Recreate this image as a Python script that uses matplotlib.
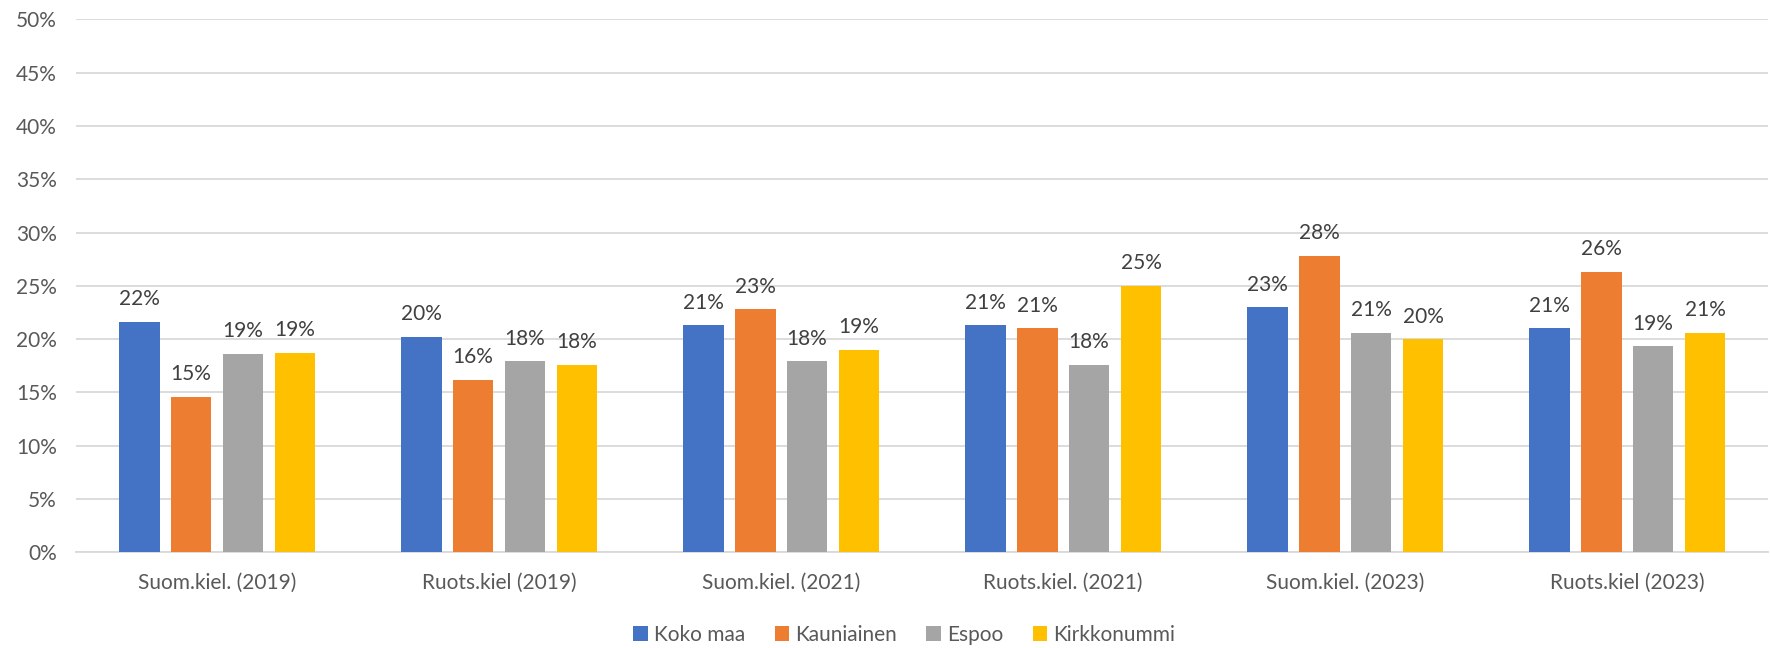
import numpy as np
import matplotlib
matplotlib.use("Agg")
import matplotlib.pyplot as plt
from matplotlib.ticker import FuncFormatter

plt.rcParams['font.family'] = ['Lato', 'DejaVu Sans']

kategoriat = ["Suom.kiel. (2019)", "Ruots.kiel (2019)", "Suom.kiel. (2021)",
              "Ruots.kiel. (2021)", "Suom.kiel. (2023)", "Ruots.kiel (2023)"]
sarjat = ["Koko maa", "Kauniainen", "Espoo", "Kirkkonummi"]
koko_maa = [21.6, 20.2, 21.3, 21.3, 23.0, 21.0]
kauniainen = [14.6, 16.2, 22.8, 21.0, 27.8, 26.3]
espoo = [18.6, 17.9, 17.9, 17.6, 20.6, 19.3]
kirkkonummi = [18.7, 17.6, 19.0, 25.0, 20.0, 20.6]
arvot = [koko_maa, kauniainen, espoo, kirkkonummi]
varit = ["#4472C4", "#ED7D31", "#A5A5A5", "#FFC000"]

teksti = "#595959"
fig = plt.figure(figsize=(17.7, 6.48), dpi=100)
ax = fig.add_axes([0.043, 0.148, 0.956, 0.822])

x = np.arange(len(kategoriat))
leveys = 0.144
askel = 0.184
for i, (nimi, vals, vari) in enumerate(zip(sarjat, arvot, varit)):
    pos = x + (i - 1.5) * askel
    bars = ax.bar(pos, vals, width=leveys, color=vari, label=nimi, zorder=3)
    for b, v in zip(bars, vals):
        ax.annotate(f"{round(v):.0f}%", (b.get_x() + b.get_width() / 2, v),
                    xytext=(0, 9), textcoords="offset points",
                    ha="center", va="bottom", fontsize=15, color="#404040")

ax.set_ylim(0, 50)
ax.set_xlim(-0.5, len(kategoriat) - 0.5)
ax.set_yticks(np.arange(0, 51, 5))
ax.yaxis.set_major_formatter(FuncFormatter(lambda v, p: f"{v:.0f}%"))
ax.set_xticks(x)
ax.set_xticklabels(kategoriat)
ax.grid(axis="y", color="#D9D9D9", linewidth=1.3, zorder=0)
for s in ["top", "right", "left"]:
    ax.spines[s].set_visible(False)
ax.spines["bottom"].set_color("#D9D9D9")
ax.spines["bottom"].set_linewidth(1.3)
ax.tick_params(axis="x", length=0, labelsize=15, colors=teksti, pad=15)
ax.tick_params(axis="y", length=0, labelsize=15, colors=teksti, pad=14)

fig.legend(loc="center", bbox_to_anchor=(0.511, 0.02), ncol=4, frameon=False,
           fontsize=15, labelcolor=teksti, handlelength=0.7, handleheight=0.7,
           handletextpad=0.3, columnspacing=1.4)

plt.savefig("out.png", dpi=100)
